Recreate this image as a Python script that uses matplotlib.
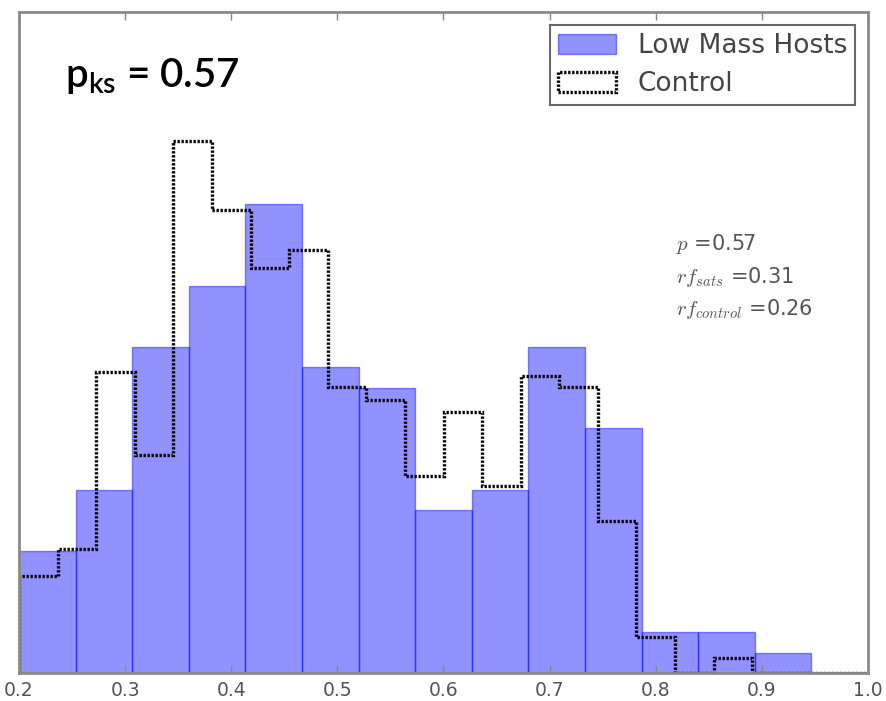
import numpy as np
import matplotlib
matplotlib.use("Agg")
import matplotlib.pyplot as plt

# Bin layout of the two histograms
x_min, x_max = 0.2, 1.0
host_nbins = 15
control_nbins = 22

# Low mass hosts: satellite counts per bin (normalised to a density when drawn)
host_counts = [6, 9, 16, 19, 23, 15, 14, 8, 9, 16, 12, 2, 2, 1, 0]

# Control sample: normalised density per bin
control_density = [0.59, 0.75, 1.82, 1.32, 3.22, 2.80, 2.45, 2.56, 1.73, 1.65, 1.19,
                   1.58, 1.13, 1.80, 1.73, 0.92, 0.22, 0.0, 0.09, 0.0, 0.0, 0.0]

xticks = [0.2, 0.3, 0.4, 0.5, 0.6, 0.7, 0.8, 0.9, 1.0]
series_labels = ["Low Mass Hosts", "Control"]
ks_label = r"$\mathregular{p_{ks}}$ = 0.57"
stat_lines = [r"$p$ =0.57", r"$rf_{sats}$ =0.31", r"$rf_{control}$ =0.26"]

plt.rcParams["mathtext.fontset"] = "cm"

fig = plt.figure(figsize=(8.87, 7.01), dpi=100)
ax = fig.add_axes([19 / 887, 1 - 673 / 701, 849 / 887, 661 / 701])

host_edges = np.linspace(x_min, x_max, host_nbins + 1)
host_centers = 0.5 * (host_edges[:-1] + host_edges[1:])
ax.hist(host_centers, bins=host_edges, weights=host_counts, density=True,
        color="blue", alpha=0.43, edgecolor="blue", linewidth=1.0,
        label=series_labels[0])

control_edges = np.linspace(x_min, x_max, control_nbins + 1)
control_centers = 0.5 * (control_edges[:-1] + control_edges[1:])
ax.hist(control_centers, bins=control_edges, weights=control_density,
        histtype="step", color="black", linewidth=2.4,
        linestyle=(0, (0.7, 0.5)), label=series_labels[1])

ax.set_xlim(x_min, x_max)
ax.set_ylim(0, 4)
ax.set_xticks(xticks)
ax.set_xticklabels([f"{t:.1f}" for t in xticks])
ax.set_yticks([])
ax.tick_params(axis="x", which="both", direction="in", top=True, length=6,
               width=1, color="#888888", labelsize=13.5, labelcolor="#555555", pad=6)
for s in ax.spines.values():
    s.set_color("#8a8a8a")
    s.set_linewidth(2)

# KS probability in the top-left corner
ax.text(0.054, 0.887, ks_label, transform=ax.transAxes, fontsize=29,
        family="Lato", fontweight="semibold", color="black", va="baseline", ha="left")

# Statistics block on the right
for y, line in zip([0.640, 0.590, 0.5416], stat_lines):
    ax.text(0.774, y, line, transform=ax.transAxes, fontsize=15,
            color="#555555", va="baseline", ha="left")

leg = ax.legend(loc="upper right", fontsize=19, frameon=True, fancybox=False,
                borderaxespad=0.5, handlelength=2.2, handleheight=0.8,
                handletextpad=0.8, labelspacing=0.45, borderpad=0.3)
leg.get_frame().set_edgecolor("#444444")
leg.get_frame().set_linewidth(1.5)
for t in leg.get_texts():
    t.set_color("#444444")

fig.savefig("out.png", dpi=100)
